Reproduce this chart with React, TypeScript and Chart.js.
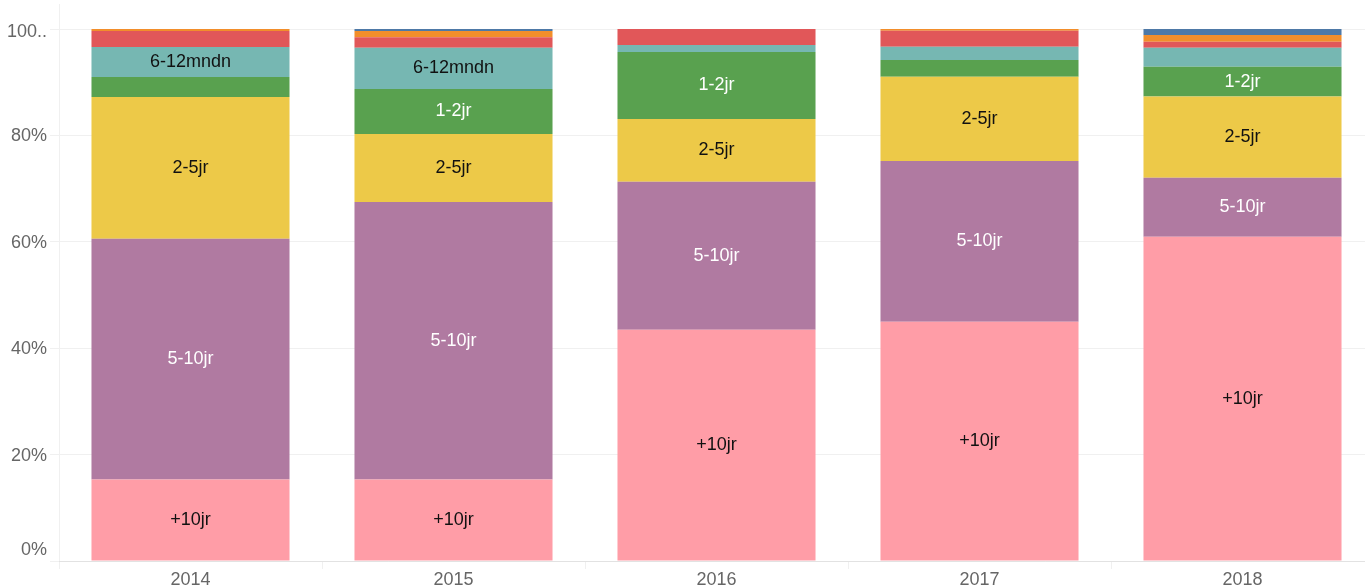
import React, { useEffect, useRef } from "react";
import { Chart, registerables } from "chart.js";

Chart.register(...registerables);

const categories = ["2014", "2015", "2016", "2017", "2018"];
const seriesNames = ["+10jr", "5-10jr", "2-5jr", "1-2jr", "6-12mndn", "3-6mndn", "1-3mndn", "0-1mnd"];
const s10plus = [15.3, 15.3, 43.47, 44.98, 60.94];
const s5to10 = [45.26, 52.2, 27.8, 30.23, 11.08];
const s2to5 = [26.67, 12.77, 11.83, 15.83, 15.27];
const s1to2 = [3.76, 8.45, 12.58, 3.14, 5.63];
const s6to12m = [5.63, 7.76, 1.32, 2.5, 3.57];
const s3to6m = [3.0, 1.95, 3.0, 3.0, 1.13];
const s1to3m = [0.38, 1.18, 0, 0.32, 1.25];
const s0to1m = [0, 0.38, 0, 0, 1.13];
const yTicks = [0, 20, 40, 60, 80, 100];
const yTickLabels = ["0%", "20%", "40%", "60%", "80%", "100.."];
const yTickShift = [-12, 0, 0, 0, 0, 2];

const seriesValues = [s10plus, s5to10, s2to5, s1to2, s6to12m, s3to6m, s1to3m, s0to1m];
const colors = ["#FF9DA7", "#B07AA1", "#EDC948", "#59A14F", "#76B7B2", "#E15759", "#F28E2B", "#4E79A7"];
const labelColors = ["#111", "#fff", "#111", "#fff", "#111", "#111", "#111", "#fff"];
const FONT = "'Liberation Sans', Arial, Helvetica, sans-serif";

const segmentLabels = {
  id: "segmentLabels",
  afterDatasetsDraw(chart: any) {
    const ctx = chart.ctx;
    ctx.save();
    ctx.font = `18px ${FONT}`;
    ctx.textAlign = "center";
    ctx.textBaseline = "middle";
    chart.data.datasets.forEach((ds: any, i: number) => {
      const meta = chart.getDatasetMeta(i);
      meta.data.forEach((el: any, j: number) => {
        const v = ds.data[j];
        if (v >= 4.5) {
          ctx.fillStyle = labelColors[i];
          ctx.fillText(seriesNames[i], el.x, (el.y + el.base) / 2);
        }
      });
    });
    ctx.restore();
  },
};

const yLabels = {
  id: "yLabels",
  afterDraw(chart: any) {
    const ctx = chart.ctx;
    const y = chart.scales.y;
    ctx.save();
    ctx.font = `18px ${FONT}`;
    ctx.textAlign = "right";
    ctx.textBaseline = "middle";
    ctx.fillStyle = "#666";
    yTicks.forEach((v, i) => {
      ctx.fillText(yTickLabels[i], y.right - 12, y.getPixelForValue(v) + 1 + yTickShift[i]);
    });
    ctx.restore();
  },
};

export default function App() {
  const ref = useRef<HTMLCanvasElement>(null);
  useEffect(() => {
    if (!ref.current) return;
    const gridColor = "rgba(0,0,0,0.06)";
    const chart = new Chart(ref.current, {
      type: "bar",
      data: {
        labels: categories,
        datasets: seriesValues.map((d, i) => ({
          label: seriesNames[i],
          data: d,
          backgroundColor: colors[i],
          borderWidth: 0,
          barPercentage: 0.753,
          categoryPercentage: 1,
        })),
      },
      options: {
        animation: false,
        responsive: true,
        maintainAspectRatio: false,
        layout: { padding: { top: 4, right: 0, left: 0, bottom: 0 } },
        plugins: { legend: { display: false }, tooltip: { enabled: false } },
        scales: {
          x: {
            stacked: true,
            grid: { drawOnChartArea: false, color: gridColor, tickLength: 8 },
            border: { color: gridColor },
            ticks: { color: "#666", font: { family: FONT, size: 18 }, padding: 0 },
            afterFit(scale: any) {
              scale.height = 27;
              scale.paddingLeft = 0;
              scale.paddingRight = 0;
            },
          },
          y: {
            stacked: true,
            min: 0,
            max: 104.7,
            grid: { color: gridColor, tickLength: 9 },
            border: { color: gridColor },
            afterBuildTicks(scale: any) {
              scale.ticks = yTicks.map((v) => ({ value: v }));
            },
            ticks: { display: false },
            afterFit(scale: any) {
              scale.width = 59;
              scale.paddingTop = 0;
              scale.paddingBottom = 0;
            },
          },
        },
      },
      plugins: [segmentLabels, yLabels],
    });
    return () => chart.destroy();
  }, []);
  return (
    <div style={{ position: "fixed", left: 0, top: 0, width: 1365, height: 588, overflow: "hidden", background: "#fff" }}>
      <div style={{ position: "relative", width: 1374, height: 588 }}>
        <canvas ref={ref} />
      </div>
    </div>
  );
}
